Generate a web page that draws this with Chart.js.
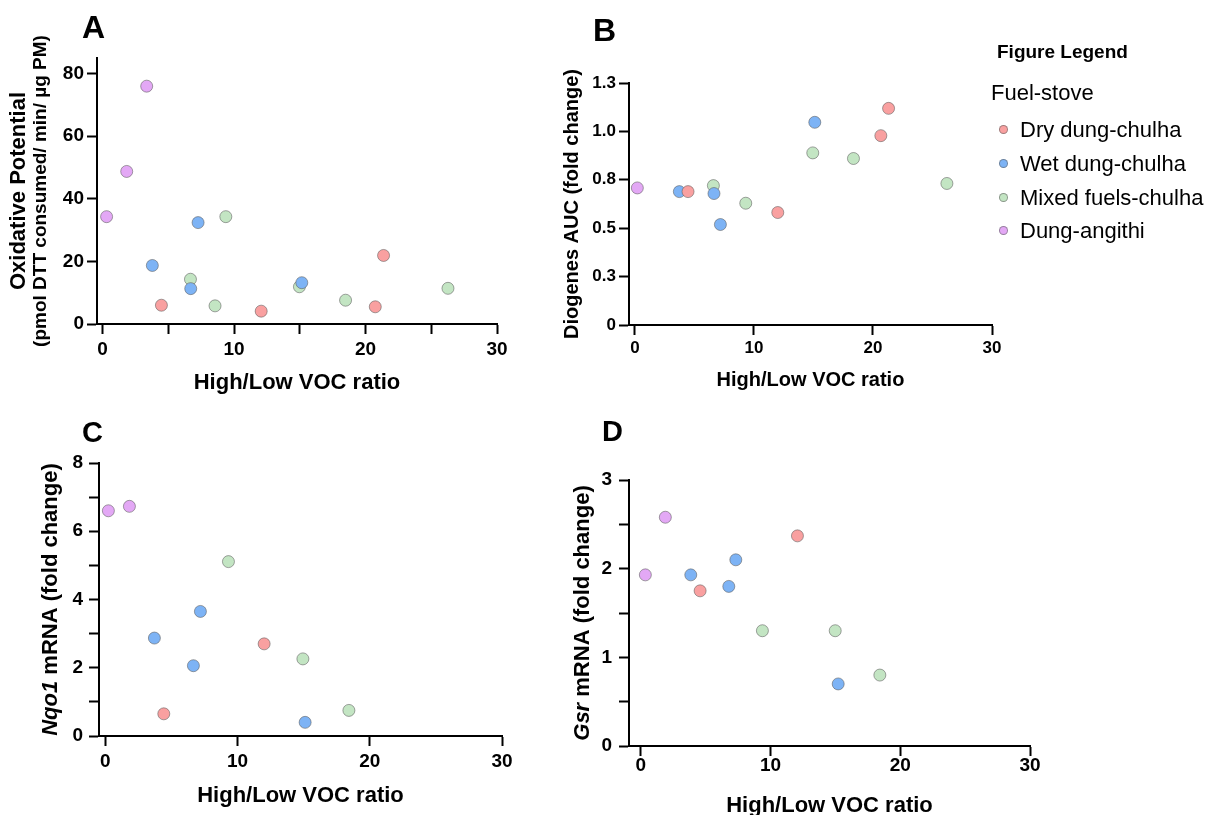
<!DOCTYPE html>
<html>
<head>
<meta charset="utf-8">
<script src="https://cdn.jsdelivr.net/npm/chart.js@4.4.1/dist/chart.umd.min.js"></script>
<style>
  html, body { margin: 0; padding: 0; background: #fff; overflow: hidden; }
  #page { position: relative; width: 1215px; height: 815px; overflow: hidden; font-family: "Liberation Sans", Arial, sans-serif; color: #000; }
  canvas { position: absolute; }
  .letter { position: absolute; font-weight: bold; line-height: 1; }
  .lg { position: absolute; line-height: 1; white-space: nowrap; }
  .dot { position: absolute; width: 9px; height: 9px; border-radius: 50%; box-sizing: border-box; border: 1px solid rgba(90,90,90,0.55); }
</style>
</head>
<body>
<div id="page">
  <canvas id="cA" width="540" height="410" style="left:0px;top:0px;width:540px;height:410px"></canvas>
  <canvas id="cB" width="475" height="410" style="left:540px;top:0px;width:475px;height:410px"></canvas>
  <canvas id="cC" width="540" height="405" style="left:0px;top:410px;width:540px;height:405px"></canvas>
  <canvas id="cD" width="520" height="430" style="left:540px;top:410px;width:520px;height:430px"></canvas>

  <div class="letter" style="left:82px;top:11px;font-size:32px">A</div>
  <div class="letter" style="left:593px;top:14px;font-size:32px">B</div>
  <div class="letter" style="left:82px;top:418px;font-size:29px">C</div>
  <div class="letter" style="left:602px;top:417px;font-size:29px">D</div>

  <div id="legend"></div>
</div>
<script>
// ---------------- data ----------------
const groupNames = ['Dry dung-chulha', 'Wet dung-chulha', 'Mixed fuels-chulha', 'Dung-angithi'];
const groupColors = ['#F9A0A0', '#7DB3F5', '#C3E5C3', '#E3A8F5'];

// Panel A: Oxidative potential
const dryA_x = [4.47, 12.06, 20.74, 21.37];
const dryA_y = [6.0, 4.1, 5.5, 21.9];
const wetA_x = [3.78, 7.26, 6.70, 15.15];
const wetA_y = [18.7, 32.4, 11.3, 13.2];
const mixA_x = [6.68, 9.37, 8.55, 14.97, 18.48, 26.27];
const mixA_y = [14.3, 34.3, 5.8, 11.9, 7.6, 11.4];
const angA_x = [0.30, 1.83, 3.35];
const angA_y = [34.3, 48.75, 76.0];

// Panel B: Diogenes AUC
const dryB_x = [4.46, 12.0, 20.66, 21.31];
const dryB_y = [0.689, 0.581, 0.978, 1.119];
const wetB_x = [3.73, 6.64, 7.18, 15.11];
const wetB_y = [0.689, 0.679, 0.519, 1.047];
const mixB_x = [6.59, 9.31, 14.94, 18.36, 26.21];
const mixB_y = [0.720, 0.629, 0.889, 0.860, 0.731];
const angB_x = [0.20];
const angB_y = [0.708];

// Panel C: Nqo1 mRNA
const dryC_x = [4.42, 12.01];
const dryC_y = [0.65, 2.70];
const wetC_x = [3.71, 7.19, 6.66, 15.11];
const wetC_y = [2.87, 3.65, 2.06, 0.40];
const mixC_x = [9.31, 14.94, 18.42];
const mixC_y = [5.11, 2.26, 0.75];
const angC_x = [0.23, 1.82];
const angC_y = [6.60, 6.73];

// Panel D: Gsr mRNA
const dryD_x = [4.58, 12.08];
const dryD_y = [1.75, 2.37];
const wetD_x = [3.86, 7.33, 6.79, 15.22];
const wetD_y = [1.93, 2.10, 1.80, 0.70];
const mixD_x = [9.38, 14.99, 18.43];
const mixD_y = [1.30, 1.30, 0.80];
const angD_x = [0.36, 1.90];
const angD_y = [1.93, 2.58];

// Tick values and labels
const xTicksA = [0, 5, 10, 15, 20, 25, 30];
const xLabelsA = ['0', '', '10', '', '20', '', '30'];
const xTicks = [0, 10, 20, 30];
const xLabels = ['0', '10', '20', '30'];
const yTicksA = [0, 20, 40, 60, 80];
const yLabelsA = ['0', '20', '40', '60', '80'];
const yTicksB = [0, 0.25, 0.5, 0.75, 1.0, 1.25];
const yLabelsB = ['0', '0.3', '0.5', '0.8', '1.0', '1.3'];
const yTicksC = [0, 1, 2, 3, 4, 5, 6, 7, 8];
const yLabelsC = ['0', '', '2', '', '4', '', '6', '', '8'];
const yTicksD = [0, 0.5, 1, 1.5, 2, 2.5, 3];
const yLabelsD = ['0', '', '1', '', '2', '', '3'];

const xTitle = 'High/Low VOC ratio';

// ---------------- helpers ----------------
const FAM = '"Liberation Sans", Arial, sans-serif';
const zip = (xs, ys) => xs.map((x, i) => ({ x: x, y: ys[i] }));

function makeDatasets(sets) {
  return sets.map((s, i) => ({
    label: groupNames[i],
    data: zip(s[0], s[1]),
    backgroundColor: groupColors[i],
    borderColor: 'rgba(90,90,90,0.55)',
    borderWidth: 1,
    pointRadius: 6,
    pointHoverRadius: 6
  }));
}

function yTitlePlugin(lines) {
  return {
    id: 'yTitleRich',
    afterDraw(chart) {
      const { ctx, chartArea } = chart;
      const cy = (chartArea.top + chartArea.bottom) / 2;
      lines.forEach(line => {
        ctx.save();
        ctx.translate(line.x, cy);
        ctx.rotate(-Math.PI / 2);
        ctx.textBaseline = 'alphabetic';
        ctx.textAlign = 'left';
        ctx.fillStyle = '#000';
        let total = 0;
        line.parts.forEach(p => { ctx.font = p.font; total += ctx.measureText(p.text).width; });
        let x = -total / 2;
        line.parts.forEach(p => { ctx.font = p.font; ctx.fillText(p.text, x, 0); x += ctx.measureText(p.text).width; });
        ctx.restore();
      });
    }
  };
}

function makeChart(id, cfg) {
  const canvas = document.getElementById(id);
  const W = canvas.width, H = canvas.height;
  const area = cfg.area; // left, right, top, bottom in canvas px
  return new Chart(canvas.getContext('2d'), {
    type: 'scatter',
    data: { datasets: makeDatasets(cfg.sets) },
    options: {
      responsive: false,
      animation: false,
      devicePixelRatio: 1,
      events: [],
      layout: { padding: { left: 0, top: area.top, right: W - area.right, bottom: 0 } },
      plugins: { legend: { display: false }, tooltip: { enabled: false } },
      scales: {
        x: {
          type: 'linear',
          position: 'bottom',
          min: cfg.xMin, max: 30,
          afterBuildTicks: s => { s.ticks = cfg.xTicks.map(v => ({ value: v })); },
          afterFit: s => { s.height = H - area.bottom; },
          grid: { drawOnChartArea: false, drawTicks: true, tickLength: 10, tickColor: '#000', tickWidth: 2 },
          border: { display: true, color: '#000', width: 2 },
          ticks: {
            callback: (v, i) => cfg.xLabels[i],
            font: { family: FAM, size: cfg.tickSize, weight: 'bold' },
            color: '#000',
            padding: cfg.xPad,
            maxRotation: 0, autoSkip: false
          },
          title: {
            display: true, text: xTitle, color: '#000',
            font: { family: FAM, size: cfg.xTitleSize, weight: 'bold' },
            padding: { top: 0, bottom: cfg.xTitlePad }
          }
        },
        y: {
          type: 'linear',
          position: 'left',
          min: 0, max: cfg.yMax,
          afterBuildTicks: s => { s.ticks = cfg.yTicks.map(v => ({ value: v })); },
          afterFit: s => { s.width = area.left; },
          grid: { drawOnChartArea: false, drawTicks: true, tickLength: 10, tickColor: '#000', tickWidth: 2 },
          border: { display: true, color: '#000', width: 2 },
          ticks: {
            callback: (v, i) => cfg.yLabels[i],
            font: { family: FAM, size: cfg.tickSize, weight: 'bold' },
            color: '#000',
            padding: cfg.yPad,
            autoSkip: false
          },
          title: { display: false }
        }
      }
    },
    plugins: [yTitlePlugin(cfg.yTitle)]
  });
}

const B = 'bold ';
makeChart('cA', {
  sets: [[dryA_x, dryA_y], [wetA_x, wetA_y], [mixA_x, mixA_y], [angA_x, angA_y]],
  area: { left: 97, right: 497, top: 58, bottom: 324 },
  xMin: -0.43, yMax: 85,
  xTicks: xTicksA, xLabels: xLabelsA, yTicks: yTicksA, yLabels: yLabelsA,
  tickSize: 19, xPad: 4, yPad: 3, xTitleSize: 22, xTitlePad: 14,
  yTitle: [
    { x: 25, parts: [{ text: 'Oxidative Potential', font: B + '22px ' + FAM }] },
    { x: 46, parts: [{ text: '(pmol DTT consumed/ min/ µg PM)', font: B + '19px ' + FAM }] }
  ]
});
makeChart('cB', {
  sets: [[dryB_x, dryB_y], [wetB_x, wetB_y], [mixB_x, mixB_y], [angB_x, angB_y]],
  area: { left: 89, right: 452, top: 83, bottom: 325 },
  xMin: -0.5, yMax: 1.25,
  xTicks: xTicks, xLabels: xLabels, yTicks: yTicksB, yLabels: yLabelsB,
  tickSize: 17, xPad: 3, yPad: 3, xTitleSize: 20, xTitlePad: 18,
  yTitle: [
    { x: 37.5, parts: [{ text: 'Diogenes AUC (fold change)', font: B + '20px ' + FAM }] }
  ]
});
makeChart('cC', {
  sets: [[dryC_x, dryC_y], [wetC_x, wetC_y], [mixC_x, mixC_y], [angC_x, angC_y]],
  area: { left: 99, right: 502, top: 53, bottom: 326 },
  xMin: -0.48, yMax: 8,
  xTicks: xTicks, xLabels: xLabels, yTicks: yTicksC, yLabels: yLabelsC,
  tickSize: 19, xPad: 4, yPad: 6, xTitleSize: 22, xTitlePad: 6,
  yTitle: [
    { x: 57, parts: [
      { text: 'Nqo1', font: 'italic bold 22px ' + FAM },
      { text: ' mRNA (fold change)', font: B + '22px ' + FAM }
    ] }
  ]
});
makeChart('cD', {
  sets: [[dryD_x, dryD_y], [wetD_x, wetD_y], [mixD_x, mixD_y], [angD_x, angD_y]],
  area: { left: 89, right: 490, top: 70, bottom: 336 },
  xMin: -0.9, yMax: 3,
  xTicks: xTicks, xLabels: xLabels, yTicks: yTicksD, yLabels: yLabelsD,
  tickSize: 19, xPad: -2, yPad: 7, xTitleSize: 22, xTitlePad: 21,
  yTitle: [
    { x: 48.5, parts: [
      { text: 'Gsr', font: 'italic bold 22px ' + FAM },
      { text: ' mRNA (fold change)', font: B + '22px ' + FAM }
    ] }
  ]
});

// ---------------- legend (HTML) ----------------
(function buildLegend() {
  const lg = document.getElementById('legend');
  const add = (html) => { lg.insertAdjacentHTML('beforeend', html); };
  add('<div class="lg" style="left:997px;top:42px;font-size:19px;font-weight:bold">Figure Legend</div>');
  add('<div class="lg" style="left:991px;top:82px;font-size:22px">Fuel-stove</div>');
  const rowCenters = [130, 164, 198, 231];
  groupNames.forEach((name, i) => {
    const cy = rowCenters[i];
    add('<div class="dot" style="left:' + (1003 - 4.5) + 'px;top:' + (cy - 5) + 'px;background:' + groupColors[i] + '"></div>');
    add('<div class="lg" style="left:1020px;top:' + (cy - 10.8) + 'px;font-size:22px">' + name + '</div>');
  });
})();
</script>
</body>
</html>
